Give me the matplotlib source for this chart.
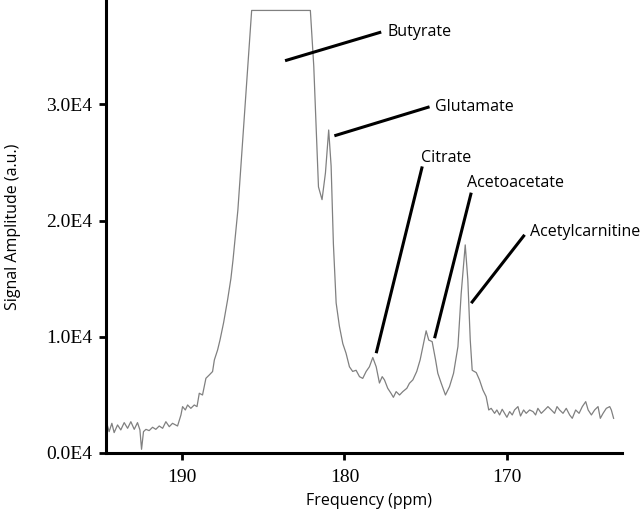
import matplotlib
matplotlib.use('Agg')
import matplotlib.pyplot as plt

# spectrum: chemical shift (ppm) and amplitude (x 1E4)
ppm = [194.71, 194.51, 194.34, 194.20, 193.99, 193.79, 193.58, 193.37, 193.17, 192.96,
       192.76, 192.61, 192.51, 192.39, 192.24, 192.04, 191.83, 191.63, 191.42, 191.21,
       191.01, 190.80, 190.60, 190.29, 190.08, 189.98, 189.81, 189.67, 189.47, 189.26,
       189.09, 188.95, 188.75, 188.54, 188.33, 188.13, 188.02, 187.82, 187.67, 187.45,
       187.20, 187.00, 186.87, 186.57, 185.72, 182.10, 181.89, 181.60, 181.38, 181.17,
       180.97, 180.82, 180.68, 180.51, 180.31, 180.10, 179.90, 179.69, 179.49, 179.28,
       179.07, 178.87, 178.66, 178.46, 178.25, 178.04, 177.84, 177.67, 177.53, 177.33,
       177.12, 176.98, 176.81, 176.60, 176.40, 176.15, 175.99, 175.78, 175.54, 175.33,
       175.12, 174.96, 174.80, 174.59, 174.38, 174.24, 174.03, 173.77, 173.52, 173.27,
       173.00, 172.80, 172.55, 172.39, 172.24, 172.12, 171.87, 171.67, 171.46, 171.26,
       171.10, 170.95, 170.74, 170.60, 170.43, 170.27, 170.12, 169.98, 169.81, 169.65,
       169.51, 169.30, 169.14, 168.95, 168.79, 168.58, 168.37, 168.21, 168.07, 167.86,
       167.65, 167.45, 167.24, 167.04, 166.89, 166.73, 166.52, 166.32, 166.11, 165.95,
       165.74, 165.53, 165.33, 165.12, 164.97, 164.77, 164.57, 164.36, 164.22, 164.05,
       163.85, 163.64, 163.54, 163.40]
amp = [0.282, 0.181, 0.253, 0.173, 0.239, 0.196, 0.259, 0.210, 0.267, 0.201,
       0.259, 0.196, 0.029, 0.181, 0.201, 0.190, 0.219, 0.201, 0.230, 0.210,
       0.267, 0.224, 0.253, 0.230, 0.325, 0.397, 0.368, 0.411, 0.382, 0.411,
       0.397, 0.512, 0.497, 0.641, 0.670, 0.699, 0.799, 0.885, 0.972, 1.12,
       1.32, 1.50, 1.66, 2.09, 3.81, 3.81, 3.33, 2.29, 2.18, 2.41,
       2.78, 2.47, 1.80, 1.29, 1.09, 0.94, 0.857, 0.74, 0.70, 0.71,
       0.655, 0.64, 0.70, 0.74, 0.82, 0.74, 0.60, 0.655, 0.627, 0.555,
       0.51, 0.477, 0.526, 0.497, 0.526, 0.555, 0.598, 0.627, 0.70, 0.80,
       0.94, 1.05, 0.97, 0.957, 0.80, 0.684, 0.598, 0.497, 0.569, 0.684,
       0.914, 1.37, 1.79, 1.49, 0.97, 0.71, 0.69, 0.627, 0.54, 0.483,
       0.368, 0.382, 0.339, 0.368, 0.325, 0.374, 0.339, 0.305, 0.354, 0.325,
       0.368, 0.397, 0.316, 0.368, 0.339, 0.368, 0.354, 0.325, 0.382, 0.339,
       0.368, 0.397, 0.368, 0.339, 0.397, 0.368, 0.339, 0.382, 0.325, 0.296,
       0.368, 0.339, 0.397, 0.440, 0.368, 0.325, 0.368, 0.397, 0.296, 0.339,
       0.382, 0.397, 0.368, 0.296]

yticks = [0, 1, 2, 3]
ytick_labels = ['0.0E4', '1.0E4', '2.0E4', '3.0E4']
xticks = [190, 180, 170]

# peak labels: name, line start (ppm, amp), line end (ppm, amp)
labels = ['Butyrate', 'Glutamate', 'Citrate', 'Acetoacetate', 'Acetylcarnitine']
line_start = [(183.66, 3.377), (180.62, 2.73), (178.04, 0.857), (174.44, 0.986), (172.18, 1.288)]
line_end = [(177.73, 3.624), (174.75, 2.98), (175.20, 2.466), (172.18, 2.24), (168.89, 1.877)]
text_pos = [(177.36, 3.625), (174.44, 2.98), (175.27, 2.54), (172.43, 2.32), (168.54, 1.905)]

sans = 'Open Sans'
serif = 'Liberation Serif'

fig = plt.figure(figsize=(6.43, 5.18), dpi=100)
ax = fig.add_axes([0.1649, 0.1261, 0.802, 0.8739])
ax.plot(ppm, amp, color='#808080', lw=0.9)

for name, s, e, t in zip(labels, line_start, line_end, text_pos):
    ax.plot([s[0], e[0]], [s[1], e[1]], color='black', lw=2.2, solid_capstyle='butt')
    ax.text(t[0], t[1], name, fontsize=11.5, family=sans, ha='left', va='center')

ax.set_xlim(194.7, 162.9)
ax.set_ylim(0, 3.9)
ax.set_xticks(xticks)
ax.set_xticklabels([str(v) for v in xticks], family=serif, fontsize=14)
ax.set_yticks(yticks)
ax.set_yticklabels(ytick_labels, family=serif, fontsize=14)
ax.tick_params(direction='out', length=5, width=2, pad=5, color='black')
ax.tick_params(axis='x', pad=7)

for side in ['top', 'right']:
    ax.spines[side].set_visible(False)
for side in ['left', 'bottom']:
    ax.spines[side].set_linewidth(2.2)

ax.set_xlabel('Frequency (ppm)', family=sans, fontsize=11.5)
ax.set_ylabel('Signal Amplitude (a.u.)', family=sans, fontsize=11.5)
ax.xaxis.set_label_coords(0.51, -0.088)
ax.yaxis.set_label_coords(-0.165, 0.5)

fig.savefig('out.png', dpi=100)
